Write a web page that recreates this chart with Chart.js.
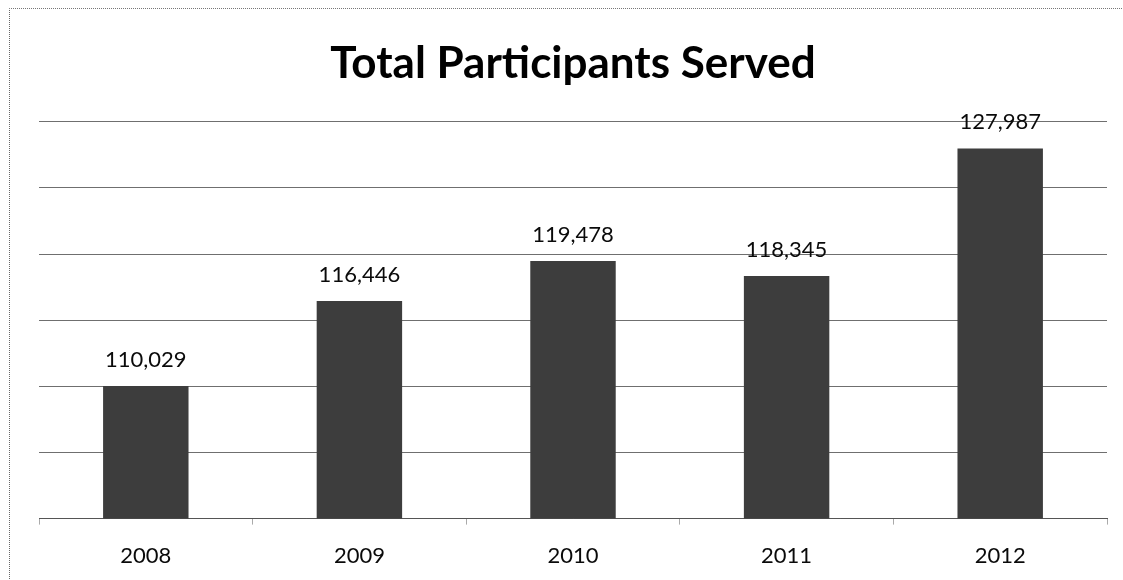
<!DOCTYPE html>
<html>
<head>
<meta charset="utf-8">
<title>Total Participants Served</title>
<script src="https://cdn.jsdelivr.net/npm/chart.js@4/dist/chart.umd.min.js"></script>
<style>
  html, body { margin: 0; padding: 0; background: #fff; }
  #wrap { position: relative; width: 1123px; height: 580px; overflow: hidden; }
  #frame {
    position: absolute; left: 9px; top: 8px; width: 1130px; height: 600px;
    border-left: 1px dotted #666; border-top: 1px dotted #777;
    pointer-events: none;
  }
  canvas { position: absolute; left: 0; top: 0; }
</style>
</head>
<body>
<div id="wrap">
  <div id="frame"></div>
  <canvas id="grafica" width="1123" height="580"></canvas>
</div>
<script>
const years = ['2008', '2009', '2010', '2011', '2012']
const participants = [110029, 116446, 119478, 118345, 127987]
const yMin = 100000
const yMax = 130000
const yStep = 5000

// numbers over the bars, e.g. 110,029
const valueLabels = {
  id: 'valueLabels',
  afterDatasetsDraw(chart) {
    const ctx = chart.ctx
    const meta = chart.getDatasetMeta(0)
    ctx.save()
    ctx.font = '22px Lato'
    ctx.fillStyle = '#0a0a0a'
    ctx.textAlign = 'center'
    ctx.textBaseline = 'alphabetic'
    meta.data.forEach((bar, i) => {
      ctx.fillText(participants[i].toLocaleString('en-US'), bar.x, bar.y - 19)
    })
    ctx.restore()
  }
}

const ctx = document.getElementById('grafica').getContext('2d')
const chart = new Chart(ctx, {
  type: 'bar',
  data: {
    labels: years,
    datasets: [{
      label: 'Total Participants Served',
      data: participants,
      backgroundColor: '#3d3d3d',
      barPercentage: 0.4,
      categoryPercentage: 1
    }]
  },
  options: {
    responsive: false,
    animation: false,
    layout: { padding: { left: 39, right: 16, top: 0, bottom: -7 } },
    plugins: {
      legend: { display: false },
      tooltip: { enabled: false },
      title: {
        display: true,
        text: 'Total Participants Served',
        color: '#000',
        font: { family: 'Lato', size: 44, weight: 'bold', lineHeight: 1.2 },
        padding: { top: 37, bottom: 32 }
      }
    },
    scales: {
      x: {
        grid: {
          offset: true,
          drawOnChartArea: false,
          drawTicks: true,
          tickLength: 6,
          color: '#aaa'
        },
        border: { display: true, color: '#555', width: 1 },
        ticks: {
          color: '#0a0a0a',
          font: { family: 'Lato', size: 22 },
          padding: 18
        }
      },
      y: {
        min: yMin,
        max: yMax,
        ticks: { display: false, stepSize: yStep },
        grid: { color: '#6f6f6f', lineWidth: 1, drawTicks: false },
        border: { display: false }
      }
    }
  },
  plugins: [valueLabels]
})
</script>
</body>
</html>
